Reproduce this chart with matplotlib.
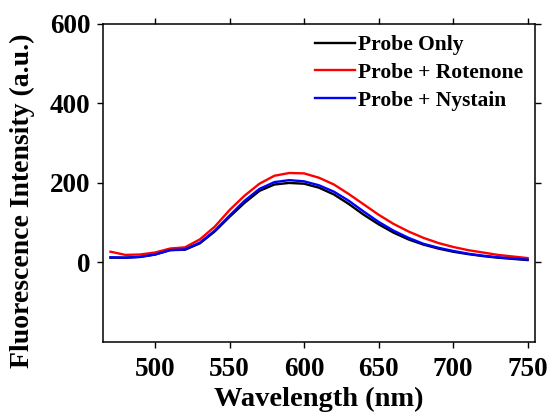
import matplotlib.pyplot as plt

wavelength = [470, 480, 490, 500, 510, 520, 530, 540, 550, 560, 570, 580, 590, 600,
              610, 620, 630, 640, 650, 660, 670, 680, 690, 700, 710, 720, 730, 740, 750]
probe_only = [12, 12, 14, 20, 31, 32, 48, 78, 115, 150, 180, 196, 200, 198,
              188, 171, 147, 120, 96, 75, 58, 45, 35, 27, 21, 16, 12, 9, 6]
probe_rotenone = [27, 19, 20, 25, 35, 38, 58, 90, 132, 168, 198, 218, 225, 224,
                  213, 196, 172, 146, 120, 97, 78, 62, 49, 39, 31, 25, 19, 15, 11]
probe_nystain = [13, 12, 14, 20, 31, 33, 50, 80, 118, 155, 185, 202, 207, 204,
                 194, 178, 155, 128, 102, 80, 62, 47, 37, 29, 22, 17, 13, 10, 7]

plt.rcParams['font.family'] = ['Liberation Serif', 'DejaVu Serif']
plt.rcParams['font.weight'] = 'bold'

fig = plt.figure(figsize=(5.51, 4.12), dpi=100)
ax = fig.add_axes([0.187, 0.170, 0.784, 0.772])

ax.plot(wavelength, probe_only, color='black', lw=1.7, label='Probe Only')
ax.plot(wavelength, probe_rotenone, color='#ff0000', lw=1.7, label='Probe + Rotenone')
ax.plot(wavelength, probe_nystain, color='#0000ff', lw=1.7, label='Probe + Nystain')

ax.set_xlim(465, 755)
ax.set_ylim(-200, 600)
ax.set_xticks([500, 550, 600, 650, 700, 750])
ax.set_yticks([0, 200, 400, 600])

for s in ax.spines.values():
    s.set_linewidth(1.1)
ax.tick_params(direction='out', length=4, width=1, labelsize=19.5, pad=5,
               top=True, right=True)
ax.tick_params(axis='x', pad=7)

ax.set_xlabel('Wavelength (nm)', fontsize=20.5, fontweight='bold', labelpad=3)
ax.set_ylabel('Fluorescence Intensity (a.u.)', fontsize=20, fontweight='bold')
ax.yaxis.set_label_coords(-0.158, 0.445)

leg = ax.legend(loc='upper left', bbox_to_anchor=(0.49, 0.965), frameon=False,
                fontsize=15.5, handlelength=1.85, handletextpad=0.15,
                labelspacing=0.36, borderpad=0, borderaxespad=0)
for t in leg.get_texts():
    t.set_fontweight('bold')

fig.savefig('out.png', dpi=100)
